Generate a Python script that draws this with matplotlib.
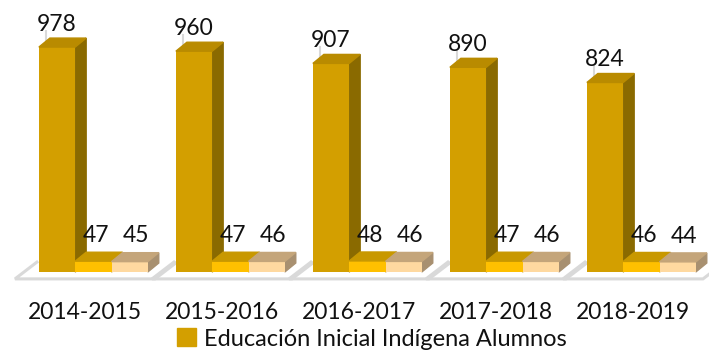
import matplotlib.pyplot as plt
from matplotlib.patches import Polygon, Patch

# datos
periodos = ['2014-2015', '2015-2016', '2016-2017', '2017-2018', '2018-2019']
alumnos = [978, 960, 907, 890, 824]
serie2 = [47, 47, 48, 47, 46]
serie3 = [45, 46, 46, 46, 44]
leyenda = 'Educación Inicial Indígena Alumnos'

plt.rcParams['font.family'] = ['Lato', 'DejaVu Sans']

fig = plt.figure(figsize=(7.09, 3.51), dpi=100)
ax = fig.add_axes([0, 0, 1, 1])
ax.set_xlim(-0.6204, 4.5547)
ax.set_ylim(-343.5, 1182.6)
ax.axis('off')

series = [alumnos, serie2, serie3]
offsets = [-0.204, 0.061, 0.326]
width = 0.265
front = ['#D39F00', '#FFC000', '#FFD9A0']
top = ['#B98B00', '#C89800', '#C4A57A']
side = ['#8A6A00', '#A88000', '#A89070']
lbl_shift = [0.0, 0.022, 0.044]
lbl_off = [16.5, 18.5, 18.5]
dx, dy = 0.080, 39  # profundidad 3D

x = list(range(len(periodos)))

# piso de cada categoria
for c in x:
    ax.plot([c - 0.511 + 0.16, c - 0.511, c + 0.511, c + 0.511 + 0.16],
            [43, -30, -30, 43], color='#d9d9d9', lw=2.2, zorder=1,
            solid_joinstyle='miter')

for k, vals in enumerate(series):
    pos = [c + offsets[k] for c in x]
    bars = ax.bar(pos, vals, width, color=front[k], zorder=2 + k + 0.5)
    for b, v in zip(bars, vals):
        L, R = b.get_x(), b.get_x() + b.get_width()
        ax.add_patch(Polygon([(L, v), (R, v), (R + dx, v + dy), (L + dx, v + dy)],
                             closed=True, color=top[k], zorder=2 + k + 0.6))
        ax.add_patch(Polygon([(R, 0), (R + dx, dy), (R + dx, v + dy), (R, v)],
                             closed=True, color=side[k], zorder=2 + k))
        xc = (L + R) / 2 + lbl_shift[k]
        if k == 0:
            ax.plot([L + 0.05, L + 0.05], [v + 10, v + 70], color='#d9d9d9',
                    lw=1.5, zorder=1.5)
        ax.annotate(str(v), (xc, v), xytext=(0, lbl_off[k]), textcoords='offset points',
                    ha='center', va='center', fontsize=16.5, color='#111111')

# etiquetas de categorias
for c, p in zip(x, periodos):
    ax.text(c, -174, p, ha='center', va='center', fontsize=16.5, color='#111111')

fig.legend(handles=[Patch(color=front[0], label=leyenda)], loc='center',
           bbox_to_anchor=(372 / 709, 1 - 339 / 351), frameon=False,
           fontsize=17, handlelength=0.8, handleheight=0.8,
           handletextpad=0.35, borderpad=0, labelcolor='#111111')

fig.savefig('out.png', dpi=100)
